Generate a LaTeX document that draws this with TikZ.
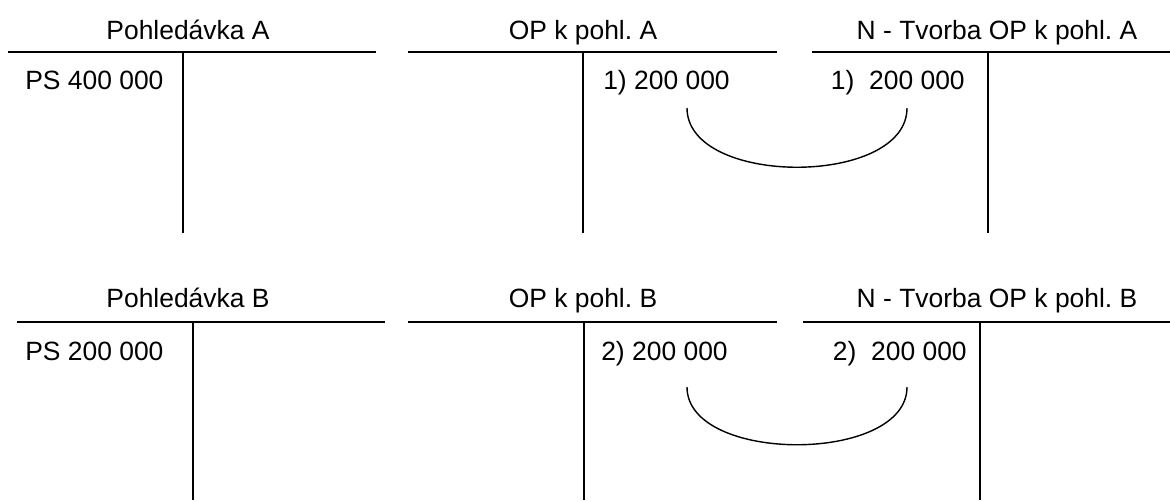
\documentclass[tikz,border=0pt]{standalone}
\usepackage{fontspec}
\setmainfont{Liberation Sans}
\frenchspacing

\begin{document}
\begin{tikzpicture}[
    x=0.025cm, y=-0.025cm,
    rule/.style={line width=1pt, black},
    title/.style={anchor=base, inner sep=0pt, font=\fontsize{18.8}{22}\selectfont},
    entry/.style={inner sep=0pt, font=\fontsize{18.8}{22}\selectfont},
    link/.style={line width=1pt, black}
]
    \useasboundingbox (0,0) rectangle (1170,500);

    % --- Row A ---
    % Pohledavka A
    \node[title] (tpa) at (188,39) {Pohledávka A};
    \draw[rule] (8,52) -- (376,52);
    \draw[rule] (183,52) -- (183,233);
    \node[entry, anchor=base west] (psa) at (25,89) {PS 400 000};

    % OP k pohl. A
    \node[title] (topa) at (583,39) {OP k pohl. A};
    \draw[rule] (408,52) -- (777,52);
    \draw[rule] (583,52) -- (583,233);
    \node[entry, anchor=base west] (opa) at (603,89) {1) 200 000};

    % N - Tvorba OP k pohl. A
    \node[title] (tna) at (997,39) {N - Tvorba OP k pohl. A};
    \draw[rule] (812,52) -- (1170,52);
    \draw[rule] (988,52) -- (988,233);
    \node[entry, anchor=base east] (na) at (965,89) {1)\ \ 200 000};

    \coordinate (la) at (687,108);
    \coordinate (ra) at (907,108);
    \draw[link] (la) .. controls (687,187) and (907,187) .. (ra);

    % --- Row B ---
    % Pohledavka B
    \node[title] (tpb) at (188,307) {Pohledávka B};
    \draw[rule] (17,322) -- (385,322);
    \draw[rule] (193,322) -- (193,500);
    \node[entry, anchor=base west] (psb) at (25,360) {PS 200 000};

    % OP k pohl. B
    \node[title] (topb) at (583,307) {OP k pohl. B};
    \draw[rule] (408,322) -- (777,322);
    \draw[rule] (584,322) -- (584,500);
    \node[entry, anchor=base west] (opb) at (601,360) {2) 200 000};

    % N - Tvorba OP k pohl. B
    \node[title] (tnb) at (997,307) {N - Tvorba OP k pohl. B};
    \draw[rule] (803,322) -- (1170,322);
    \draw[rule] (980,322) -- (980,500);
    \node[entry, anchor=base east] (nb) at (967,360) {2)\ \ 200 000};

    \coordinate (lb) at (687,387);
    \coordinate (rb) at (907,387);
    \draw[link] (lb) .. controls (687,464) and (907,464) .. (rb);

\end{tikzpicture}
\end{document}
